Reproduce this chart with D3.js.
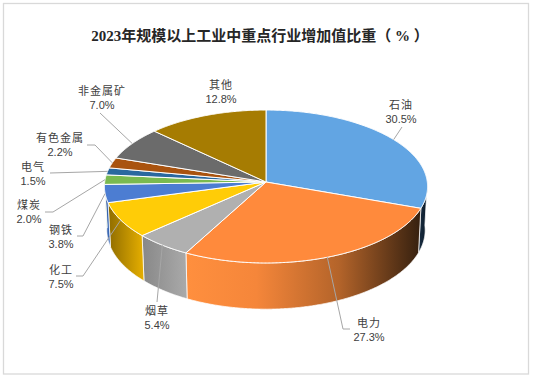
<!DOCTYPE html>
<html>
<head>
<meta charset="utf-8">
<script src="https://cdn.jsdelivr.net/npm/d3@7"></script>
<style>
html, body { margin: 0; padding: 0; background: #fff; }
svg { display: block; }
text { font-family: "Noto Sans CJK SC", sans-serif; fill: #404040; }
text.title { font-family: "Liberation Serif", "Noto Sans CJK SC", serif; fill: #262626; }
text.pct { font-family: "Liberation Sans", sans-serif; }
</style>
</head>
<body>
<svg id="chart" width="534" height="380"></svg>
<script>
// DATA
var chartTitle = "2023年规模以上工业中重点行业增加值比重（ % ）";
var categories = ["石油", "电力", "烟草", "化工", "钢铁", "煤炭", "电气", "有色金属", "非金属矿", "其他"];
var shares = [30.5, 27.3, 5.4, 7.5, 3.8, 2.0, 1.5, 2.2, 7.0, 12.8];

// COLORS
var topColors = ["#62A5E3", "#FF8A3C", "#B0B0B0", "#FFCC07", "#4C7DD2", "#7ABA50", "#2A689F", "#A9530F", "#6B6B6B", "#A67C02"];
// wall gradient, left colour then right colour
var wallColors = [
    ["#16293c", "#0b1a28"], ["#FF8F3E", "#35200f"], ["#888888", "#a9a9a9"], ["#8f6c00", "#e2ac00"], ["#24477f", "#3a68b5"],
    ["#5f9a3c", "#6fae48"], ["#1f5686", "#2a689f"], ["#85400b", "#a9530f"], ["#555555", "#6b6b6b"], ["#85620a", "#a67c02"]
];

// LAYOUT (label centres and leader elbows, not data)
var labelLayout = [
    {x: 401, y: 105, elbow: [[402, 127]]},
    {x: 369, y: 323, elbow: [[343, 329], [350, 329]]},
    {x: 157, y: 311, elbow: [[157, 302]]},
    {x: 61, y: 270, elbow: [[83, 276], [76, 276]]},
    {x: 61, y: 230, elbow: [[83, 236], [77, 236]]},
    {x: 29, y: 205, elbow: [[53, 212], [45, 212]]},
    {x: 33, y: 167, elbow: [[50, 173]]},
    {x: 60, y: 138, elbow: [[95, 145], [87, 145]]},
    {x: 102, y: 91, elbow: [[100, 113]]},
    {x: 221, y: 85, elbow: []}
];

// pie is a tilted disc seen in perspective, the front is closer so it comes out bigger
var pieCenter = {x: 266, y: 182};
var radiusX = 161.3;
var radiusY = 76.2;
var perspective = 0.0588;
var depth = 43.5;
var bottomShrink = 0.985;   // lower rim is a bit further away than the top one

var svg = d3.select("#chart");

// chart frame
svg.append("rect")
    .attr("x", 3.5).attr("y", 3.5)
    .attr("width", 525).attr("height", 370.5)
    .attr("fill", "#fff")
    .attr("stroke", "#D9D9D9")
    .attr("stroke-width", 1.3);

svg.append("text")
    .attr("class", "title")
    .attr("x", 260).attr("y", 41)
    .attr("text-anchor", "middle")
    .attr("font-size", 15)
    .attr("font-weight", "bold")
    .text(chartTitle);

// SLICES
var pie = d3.pie().sort(null).value(function(d) { return d.value; });
var slices = pie(categories.map(function(name, i) {
    return {name: name, value: shares[i], index: i};
}));

function topPoint(angle) {
    var w = 1 + perspective * Math.cos(angle);
    return [pieCenter.x + radiusX * Math.sin(angle) / w,
            pieCenter.y - radiusY * Math.cos(angle) / w];
}

function bottomPoint(angle) {
    var w = 1 + perspective * Math.cos(angle);
    var p = topPoint(angle);
    return [pieCenter.x + (p[0] - pieCenter.x) * bottomShrink, p[1] + depth / w];
}

// angles between a0 and a1, one every half degree or so
function arcAngles(a0, a1) {
    return d3.range(a0, a1, 0.008).concat([a1]);
}

var line = d3.line();
var defs = svg.append("defs");

// the front of the pie is the part of the rim with angles 90 to 270 degrees
var walls = slices.map(function(s) {
    return {
        index: s.data.index,
        a0: Math.max(s.startAngle, Math.PI / 2),
        a1: Math.min(s.endAngle, Math.PI * 1.5)
    };
}).filter(function(w) { return w.a1 > w.a0; });

walls.forEach(function(w) {
    var xs = [topPoint(w.a0)[0], topPoint(w.a1)[0]];
    var grad = defs.append("linearGradient")
        .attr("id", "wall" + w.index)
        .attr("gradientUnits", "userSpaceOnUse")
        .attr("x1", d3.min(xs)).attr("x2", d3.max(xs))
        .attr("y1", 0).attr("y2", 0);
    if (w.index == 1) {
        // orange stays flat until about the middle then burns out to the right
        grad.append("stop").attr("offset", 0).attr("stop-color", "#FF8F3E");
        grad.append("stop").attr("offset", 0.3).attr("stop-color", "#F5863A");
        grad.append("stop").attr("offset", 0.65).attr("stop-color", "#B4642A");
        grad.append("stop").attr("offset", 1).attr("stop-color", "#35200f");
    } else {
        grad.append("stop").attr("offset", 0).attr("stop-color", wallColors[w.index][0]);
        grad.append("stop").attr("offset", 1).attr("stop-color", wallColors[w.index][1]);
    }
});

svg.append("g").selectAll("path")
    .data(walls)
    .enter().append("path")
    .attr("d", function(w) {
        var angles = arcAngles(w.a0, w.a1);
        var pts = angles.map(topPoint).concat(angles.map(bottomPoint).reverse());
        return line(pts) + "Z";
    })
    .attr("fill", function(w) { return "url(#wall" + w.index + ")"; })
    .attr("stroke", "#fff")
    .attr("stroke-opacity", 0.75)
    .attr("stroke-width", 1);

svg.append("g").selectAll("path")
    .data(slices)
    .enter().append("path")
    .attr("d", function(s) {
        var pts = arcAngles(s.startAngle, s.endAngle).map(topPoint);
        return line([[pieCenter.x, pieCenter.y]].concat(pts)) + "Z";
    })
    .attr("fill", function(s) { return topColors[s.data.index]; })
    .attr("stroke", "#fff")
    .attr("stroke-width", 1);

// LEADER LINES
svg.append("g").selectAll("path")
    .data(slices.filter(function(s, i) { return labelLayout[i].elbow.length > 0; }))
    .enter().append("path")
    .attr("d", function(s) {
        var mid = (s.startAngle + s.endAngle) / 2;
        return line([topPoint(mid)].concat(labelLayout[s.data.index].elbow));
    })
    .attr("fill", "none")
    .attr("stroke", "#A6A6A6")
    .attr("stroke-width", 1);

// LABELS
var labels = svg.append("g").selectAll("g")
    .data(slices)
    .enter().append("g");

labels.append("text")
    .attr("x", function(s) { return labelLayout[s.data.index].x; })
    .attr("y", function(s) { return labelLayout[s.data.index].y + 4; })
    .attr("text-anchor", "middle")
    .attr("font-size", 11)
    .attr("letter-spacing", 1)
    .text(function(s) { return s.data.name; });

labels.append("text")
    .attr("class", "pct")
    .attr("x", function(s) { return labelLayout[s.data.index].x; })
    .attr("y", function(s) { return labelLayout[s.data.index].y + 18; })
    .attr("text-anchor", "middle")
    .attr("font-size", 11)
    .text(function(s) { return d3.format(".1f")(s.data.value) + "%"; });
</script>
</body>
</html>
